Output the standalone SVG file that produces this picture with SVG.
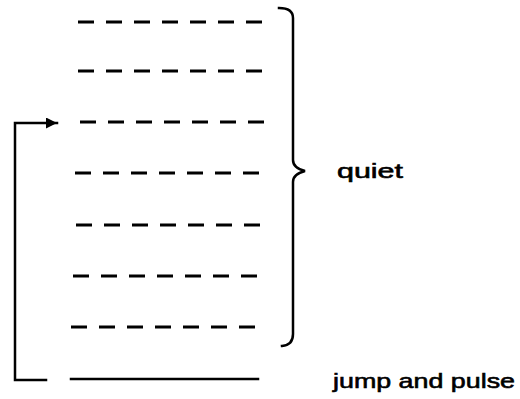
<svg xmlns="http://www.w3.org/2000/svg" width="520" height="399" viewBox="0 0 520 399">
<defs>
<style>
.dash{stroke:#000;stroke-width:3;stroke-dasharray:16 12;fill:none}
.ln{stroke:#000;stroke-width:2.5;fill:none;stroke-linecap:square}
.lbl{font-family:"Liberation Sans",Arial,sans-serif;font-size:21px;fill:#000;stroke:#000;stroke-width:0.6}
</style>
<marker id="ah" viewBox="0 0 10 10" refX="10" refY="5" markerWidth="6" markerHeight="4.4" orient="auto" markerUnits="strokeWidth">
<path d="M0,0 L10,5 L0,10 Z" fill="#000"/>
</marker>
</defs>
<g id="levels">
<line class="dash" x1="78" y1="22" x2="266" y2="22"/>
<line class="dash" x1="78" y1="71" x2="266" y2="71"/>
<line class="dash" x1="80" y1="122" x2="266" y2="122"/>
<line class="dash" x1="75" y1="173" x2="263" y2="173"/>
<line class="dash" x1="76" y1="225" x2="264" y2="225"/>
<line class="dash" x1="73" y1="276" x2="263" y2="276"/>
<line class="dash" x1="71" y1="327" x2="265" y2="327"/>
</g>
<g id="ground">
<line class="ln" x1="71" y1="379" x2="258" y2="379" stroke-width="3"/>
</g>
<g id="brace">
<path class="ln" d="M279,8 Q293,8 293,18 L293,160 Q293,168 305,171 Q293,174 293,182 L293,334 Q293,345 282,346"/>
</g>
<g id="connectors">
<path class="ln" d="M46,380 L15,380 L15,123 L57,123" marker-end="url(#ah)"/>
</g>
<g id="labels">
<text class="lbl" x="337" y="178" textLength="66" lengthAdjust="spacingAndGlyphs">quiet</text>
<text class="lbl" x="333" y="388" textLength="182" lengthAdjust="spacingAndGlyphs">jump and pulse</text>
</g>
</svg>
